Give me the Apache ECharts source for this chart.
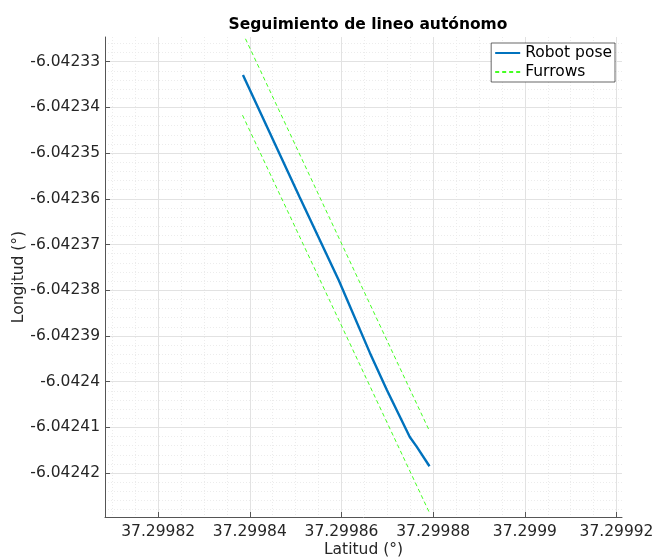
<!DOCTYPE html>
<html>
<head>
<meta charset="UTF-8">
<title></title>
<script src="https://cdn.jsdelivr.net/npm/echarts@6/dist/echarts.min.js"></script>
<style>
	html, body { margin: 0; padding: 0; background: #fff; }
	#main { width: 654px; height: 559px; }
</style>
</head>
<body>
<div id="main"></div>
<script>
	// trayectoria del robot (latitud, longitud)
	var poseLat = [37.2998385, 37.2998466, 37.2998508, 37.2998594, 37.2998662, 37.2998699, 37.2998749, 37.2998764, 37.2998792];
	var poseLon = [-6.0423329, -6.0423504, -6.0423595, -6.0423778, -6.0423937, -6.0424018, -6.0424121, -6.0424142, -6.0424185];

	// surcos
	var furrowUpLat = [37.2998384, 37.2998792];
	var furrowUpLon = [-6.0423236, -6.0424108];
	var furrowLowLat = [37.2998384, 37.2998793];
	var furrowLowLon = [-6.0423417, -6.0424289];

	var latTicks = [37.29982, 37.29984, 37.29986, 37.29988, 37.2999, 37.29992];
	var lonTicks = [-6.04233, -6.04234, -6.04235, -6.04236, -6.04237, -6.04238, -6.04239, -6.0424, -6.04241, -6.04242];
	var latRange = [37.2998084, 37.2999212];
	var lonRange = [-6.0424296, -6.0423246];

	// rejilla menor
	var latMinor = [];
	for (var i = 0; i <= 22; i++) latMinor.push(37.29981 + i * 0.000005);
	var lonMinor = [];
	for (var j = 0; j <= 52; j++) lonMinor.push(-6.042324 - j * 0.000002);

	function pairs(a, b) {
		var out = [];
		for (var k = 0; k < a.length; k++) out.push([a[k], b[k]]);
		return out;
	}
	function fmt(v) {
		return String(parseFloat(v.toFixed(5)));
	}

	var txt = '#262626';
	var font = 'DejaVu Sans';

	var myChart = echarts.init(document.getElementById('main'));
	var option = {
		animation: false,
		textStyle: { fontFamily: font },
		title: {
			text: 'Seguimiento de lineo autónomo',
			left: 363, top: 12, textAlign: 'center',
			textStyle: { fontFamily: font, fontSize: 15.5, fontWeight: 'bold', color: '#000' }
		},
		legend: {
			orient: 'vertical',
			right: 39, top: 43,
			backgroundColor: '#fff',
			borderColor: '#262626', borderWidth: 0.7,
			padding: [2, 3, 2, 3],
			itemGap: 3, itemWidth: 25, itemHeight: 14,
			itemStyle: { opacity: 0 },
			textStyle: { fontFamily: font, fontSize: 15.5, color: '#000' },
			data: ['Robot pose', 'Furrows']
		},
		grid: { left: 105, right: 32, top: 37, bottom: 42, outerBoundsMode: 'none', containLabel: false },
		xAxis: [{
			type: 'value', min: latRange[0], max: latRange[1], position: 'bottom',
			name: 'Latitud (°)', nameLocation: 'middle', nameGap: 25, nameMoveOverlap: false,
			nameTextStyle: { fontFamily: font, fontSize: 15.5, color: txt },
			axisLine: { show: true, onZero: false, lineStyle: { color: '#555', width: 1 } },
			axisTick: { show: true, inside: true, length: 5, customValues: latTicks, lineStyle: { color: '#555' } },
			axisLabel: { customValues: latTicks, formatter: fmt, fontFamily: font, fontSize: 15.5, color: txt, margin: 7 },
			splitLine: { show: true, lineStyle: { color: '#e2e2e2', width: 1 } },
			z: 3
		}, {
			type: 'value', min: latRange[0], max: latRange[1], position: 'bottom',
			axisLine: { show: false },
			axisTick: { show: false, customValues: latMinor },
			axisLabel: { show: false, customValues: latMinor },
			splitLine: { show: true, lineStyle: { color: '#ececec', width: 1, type: [1, 2] } },
			z: 1
		}],
		yAxis: [{
			type: 'value', min: lonRange[0], max: lonRange[1], position: 'left',
			name: 'Longitud (°)', nameLocation: 'middle', nameGap: 78, nameRotate: 90, nameMoveOverlap: false,
			nameTextStyle: { fontFamily: font, fontSize: 15.5, color: txt },
			axisLine: { show: true, onZero: false, lineStyle: { color: '#555', width: 1 } },
			axisTick: { show: true, inside: true, length: 5, customValues: lonTicks, lineStyle: { color: '#555' } },
			axisLabel: { customValues: lonTicks, formatter: fmt, fontFamily: font, fontSize: 15.5, color: txt, margin: 5 },
			splitLine: { show: true, lineStyle: { color: '#e2e2e2', width: 1 } },
			z: 3
		}, {
			type: 'value', min: lonRange[0], max: lonRange[1], position: 'left',
			axisLine: { show: false },
			axisTick: { show: false, customValues: lonMinor },
			axisLabel: { show: false, customValues: lonMinor },
			splitLine: { show: true, lineStyle: { color: '#ececec', width: 1, type: [1, 2] } },
			z: 1
		}],
		series: [{
			name: 'Robot pose', type: 'line',
			xAxisIndex: 0, yAxisIndex: 0,
			symbol: 'none', clip: true,
			lineStyle: { color: '#0072BD', width: 2.4 },
			itemStyle: { color: '#0072BD' },
			data: pairs(poseLat, poseLon),
			z: 5
		}, {
			name: 'Furrows', type: 'line',
			xAxisIndex: 0, yAxisIndex: 0,
			symbol: 'none', clip: true,
			lineStyle: { color: '#44ff22', width: 1, type: [4, 3] },
			itemStyle: { color: '#44ff22' },
			data: pairs(furrowUpLat, furrowUpLon),
			z: 4
		}, {
			name: 'Furrows', type: 'line',
			xAxisIndex: 0, yAxisIndex: 0,
			symbol: 'none', clip: true,
			lineStyle: { color: '#44ff22', width: 1, type: [4, 3] },
			itemStyle: { color: '#44ff22' },
			data: pairs(furrowLowLat, furrowLowLon),
			z: 4
		}]
	};
	myChart.setOption(option);
</script>
</body>
</html>
